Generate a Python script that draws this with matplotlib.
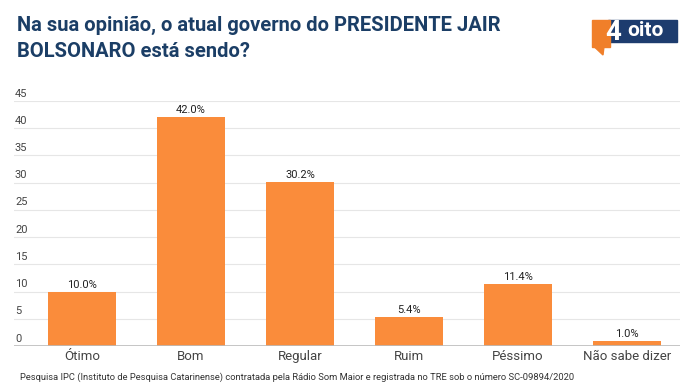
import matplotlib
matplotlib.use("Agg")
import matplotlib.pyplot as plt
import matplotlib.patches as mpatches

categories = ["Ótimo", "Bom", "Regular", "Ruim", "Péssimo", "Não sabe dizer"]
values = [10.0, 42.0, 30.2, 5.4, 11.4, 1.0]
yticks = [0, 5, 10, 15, 20, 25, 30, 35, 40, 45]

W, H = 700, 391
fig = plt.figure(figsize=(W / 100, H / 100), dpi=100)
plt.rcParams['font.family'] = ['Roboto', 'DejaVu Sans']

def px(x0, y0, x1, y1):
    # pixel box (top-left origin) -> figure fraction
    return [x0 / W, 1 - y1 / H, (x1 - x0) / W, (y1 - y0) / H]

ax = fig.add_axes(px(14, 101, 680, 346))
x = range(len(categories))
ax.bar(x, values, width=0.62, color='#FA8C3B', zorder=3)
for i, v in enumerate(values):
    ax.text(i, v + 0.35, f"{v:.1f}%", ha='center', va='bottom',
            fontsize=8, color='#222222')

ax.set_xlim(-0.624, 5.486)
ax.set_ylim(0, 45)
ax.set_yticks(yticks)
ax.set_yticklabels([])
for t in yticks:
    ax.axhline(t, color='#e6e6e6', lw=0.8, zorder=1)
    ax.text(0.0015, t + 0.45, str(t), transform=ax.get_yaxis_transform(),
            ha='left', va='bottom', fontsize=8, color='#444444')
ax.axhline(0, color='#bbbbbb', lw=1.2, zorder=4)
ax.set_xticks(list(x))
ax.set_xticklabels(categories, fontsize=9.5, color='#444444',
                   family=['Liberation Sans Narrow', 'Roboto'])
ax.tick_params(axis='both', length=0, pad=3)
for s in ax.spines.values():
    s.set_visible(False)

# title
fig.text(17 / W, 1 - 31 / H, "Na sua opinião, o atual governo do PRESIDENTE JAIR",
         fontsize=14.5, fontweight='bold', color='#1B3E66', ha='left', va='baseline')
fig.text(17 / W, 1 - 57 / H, "BOLSONARO está sendo?",
         fontsize=14.5, fontweight='bold', color='#1B3E66', ha='left', va='baseline')

# logo
lax = fig.add_axes([0, 0, 1, 1], facecolor='none')
lax.set_xlim(0, W)
lax.set_ylim(H, 0)
lax.axis('off')
lax.add_patch(mpatches.Rectangle((608, 20), 69, 22, color='#1D3C6E'))
lax.add_patch(mpatches.Rectangle((592, 20), 18, 27, color='#F07F2A'))
lax.add_patch(mpatches.Polygon([(594, 46.5), (604, 46.5), (603, 55)], color='#F07F2A'))
lax.text(613, 32, "4", fontsize=20, fontweight='bold', color='white',
         ha='center', va='center')
lax.text(645, 31, "oito", fontsize=15, fontweight='bold', color='white',
         ha='center', va='center')

# footer
fig.text(20 / W, 1 - 380 / H,
         "Pesquisa IPC (Instituto de Pesquisa Catarinense) contratada pela Rádio Som Maior "
         "e registrada no TRE sob o número SC-09894/2020",
         fontsize=6.75, color='#333333', ha='left', va='baseline',
         family=['Liberation Sans Narrow', 'Roboto'])

fig.savefig("out.png", dpi=100, facecolor='white')
